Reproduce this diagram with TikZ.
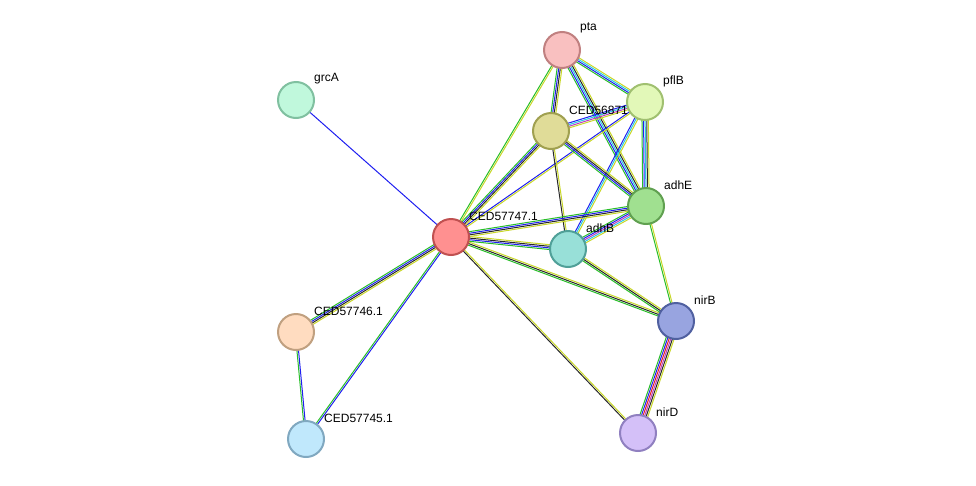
\documentclass[tikz,border=0pt]{standalone}
\usepackage{fontspec}
\setmainfont{Liberation Sans}
\usetikzlibrary{calc}
\definecolor{eg}{RGB}{40,190,40}
\definecolor{eb}{RGB}{30,30,240}
\definecolor{ec}{RGB}{40,200,230}
\definecolor{ey}{RGB}{200,215,40}
\definecolor{ek}{RGB}{40,40,40}
\definecolor{ep}{RGB}{190,60,190}
\definecolor{er}{RGB}{230,30,30}
\tikzset{
 prot/.style={circle,minimum size=36pt,inner sep=0pt,line width=2pt},
 lab/.style={anchor=west,font=\fontsize{12}{14}\selectfont,inner sep=0pt},
}
\newcommand\edge[4]{%
 \foreach \c [count=\i] in {#4}{%
  \pgfmathsetmacro\o{(\i-(#3+1)/2)*1.6}%
  \draw[\c,line width=1pt] ($(#1)!\o pt!90:(#2)$) -- ($(#2)!\o pt!-90:(#1)$);
 }}
\begin{document}
\begin{tikzpicture}[x=1pt,y=-1pt]
\useasboundingbox (0,0) rectangle (976,485);
\coordinate (pta) at (562,50);
\coordinate (pflB) at (645,102);
\coordinate (c71) at (551,131);
\coordinate (grcA) at (296,100);
\coordinate (adhE) at (646,206);
\coordinate (c47) at (451,237);
\coordinate (adhB) at (568,249);
\coordinate (nirB) at (676,321);
\coordinate (c46) at (296,332);
\coordinate (c45) at (306,439);
\coordinate (nirD) at (638,433);
\edge{pta}{pflB}{4}{eg,eb,ec,ey}
\edge{pta}{c71}{4}{eg,eb,ek,ey}
\edge{pta}{adhE}{5}{eg,eb,ec,ek,ey}
\edge{pta}{c47}{2}{eg,ey}
\edge{pflB}{c71}{4}{eb,ec,ep,ey}
\edge{pflB}{adhE}{5}{eg,eb,ec,ek,ey}
\edge{pflB}{adhB}{3}{eb,ec,ey}
\edge{pflB}{c47}{2}{eb,ey}
\edge{c71}{c47}{4}{eg,eb,ek,ey}
\edge{c71}{adhE}{4}{eg,eb,ek,ey}
\edge{c71}{adhB}{2}{ek,ey}
\edge{adhE}{c47}{4}{eg,eb,ek,ey}
\edge{adhE}{adhB}{5}{eg,eb,ep,ec,ey}
\edge{adhE}{nirB}{2}{eg,ey}
\edge{c47}{adhB}{4}{eg,eb,ek,ey}
\edge{c47}{nirB}{3}{eg,ek,ey}
\edge{adhB}{nirB}{3}{eg,ek,ey}
\edge{c47}{grcA}{1}{eb}
\edge{c47}{c46}{4}{eg,eb,ek,ey}
\edge{c47}{c45}{2}{eg,eb}
\edge{c46}{c45}{2}{eg,eb}
\edge{c47}{nirD}{2}{ek,ey}
\edge{nirB}{nirD}{6}{eg,eb,er,ep,ek,ey}
\node[prot,fill={rgb,255:red,249;green,192;blue,192},draw={rgb,255:red,192;green,128;blue,128}] (n1) at (pta) {};
\node[prot,fill={rgb,255:red,226;green,248;blue,184},draw={rgb,255:red,160;green,192;blue,112}] (n2) at (pflB) {};
\node[prot,fill={rgb,255:red,224;green,220;blue,152},draw={rgb,255:red,160;green,160;blue,80}] (n3) at (c71) {};
\node[prot,fill={rgb,255:red,192;green,248;blue,220},draw={rgb,255:red,128;green,192;blue,160}] (n4) at (grcA) {};
\node[prot,fill={rgb,255:red,160;green,224;blue,144},draw={rgb,255:red,96;green,160;blue,80}] (n5) at (adhE) {};
\node[prot,fill={rgb,255:red,255;green,144;blue,144},draw={rgb,255:red,192;green,80;blue,80}] (n6) at (c47) {};
\node[prot,fill={rgb,255:red,152;green,224;blue,216},draw={rgb,255:red,80;green,160;blue,152}] (n7) at (adhB) {};
\node[prot,fill={rgb,255:red,152;green,164;blue,224},draw={rgb,255:red,80;green,96;blue,160}] (n8) at (nirB) {};
\node[prot,fill={rgb,255:red,255;green,220;blue,192},draw={rgb,255:red,192;green,160;blue,128}] (n9) at (c46) {};
\node[prot,fill={rgb,255:red,192;green,232;blue,252},draw={rgb,255:red,128;green,168;blue,192}] (n10) at (c45) {};
\node[prot,fill={rgb,255:red,212;green,192;blue,248},draw={rgb,255:red,144;green,128;blue,192}] (n11) at (nirD) {};
\node[lab] (l1) at (580,28) {pta};
\node[lab] (l2) at (663,81) {pflB};
\node[lab] (l3) at (569,110) {CED56871};
\node[lab] (l4) at (314,79) {grcA};
\node[lab] (l5) at (664,185) {adhE};
\node[lab] (l6) at (469,216) {CED57747.1};
\node[lab] (l7) at (586,228) {adhB};
\node[lab] (l8) at (694,300) {nirB};
\node[lab] (l9) at (314,311) {CED57746.1};
\node[lab] (l10) at (324,418) {CED57745.1};
\node[lab] (l11) at (656,412) {nirD};
\end{tikzpicture}
\end{document}
